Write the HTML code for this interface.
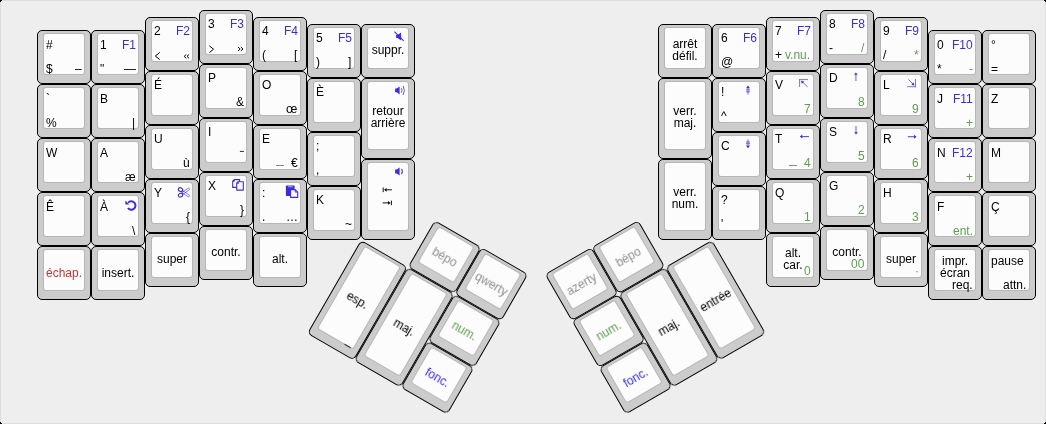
<!DOCTYPE html>
<html><head><meta charset="utf-8"><style>
html,body{margin:0;padding:0;background:#000;width:1046px;height:424px;overflow:hidden}
#kb{position:absolute;left:0;top:0;width:1046px;height:424px;box-sizing:border-box;background:#eeeeee;box-shadow:inset 0 0 0 1px #dddddd;font-family:"Liberation Sans",sans-serif;color:#000}
.k{position:absolute;box-sizing:border-box;border:1px solid #000;border-radius:5px;background:#cccccc}
.k i{position:absolute;left:5px;top:2px;box-sizing:border-box;border:1px solid rgba(0,0,0,0.1);border-radius:3px;background:#fcfcfc;background-clip:padding-box}
.k b{position:absolute;will-change:transform;font-weight:normal;font-size:12px;line-height:13px;white-space:nowrap}
.k b.tl{left:8.1px;top:7.35px}
.k b.tr{right:8.4px;top:7.35px}
.k b.bl{left:8.1px;bottom:7.7px}
.k b.br{right:8.4px;bottom:7.7px}
.k b.bc{left:0;right:0;text-align:center;bottom:7.7px}
.k b.tc{left:0;right:0;text-align:center;top:7.35px;line-height:12px}
.k b.c{line-height:12px;left:0;right:0;top:2.25px;bottom:3.25px;display:flex;align-items:center;justify-content:center;text-align:center}
.k svg.ic{position:absolute;left:-1px;top:-1px}
.k b .nb{display:inline-block;width:8px;height:1px;background:#8a8a8a;vertical-align:1px;margin-right:7px}
#kb u{position:absolute;display:block}

</style></head><body><div id="kb">
<div class="k" style="left:37px;top:30.25px;width:54px;height:54px"><i style="width:42px;height:42px"></i><b class="tl" style="">#</b><b class="bl" style="">$</b><b class="br" style="">–</b></div>
<div class="k" style="left:37px;top:84.25px;width:54px;height:54px"><i style="width:42px;height:42px"></i><b class="tl" style="">`</b><b class="bl" style="">%</b></div>
<div class="k" style="left:37px;top:138.25px;width:54px;height:54px"><i style="width:42px;height:42px"></i><b class="tl" style="">W</b></div>
<div class="k" style="left:37px;top:192.25px;width:54px;height:54px"><i style="width:42px;height:42px"></i><b class="tl" style="">Ê</b></div>
<div class="k" style="left:37px;top:246.25px;width:54px;height:54px"><i style="width:42px;height:42px"></i><b class="c" style="color:#c8332e">échap.</b></div>
<div class="k" style="left:91px;top:30.25px;width:54px;height:54px"><i style="width:42px;height:42px"></i><b class="tl" style="">1</b><b class="tr" style="color:#3a2ed8">F1</b><b class="bl" style="">"</b><b class="br" style="">—</b></div>
<div class="k" style="left:91px;top:84.25px;width:54px;height:54px"><i style="width:42px;height:42px"></i><b class="tl" style="">B</b><b class="br" style="">|</b></div>
<div class="k" style="left:91px;top:138.25px;width:54px;height:54px"><i style="width:42px;height:42px"></i><b class="tl" style="">A</b><b class="br" style="">æ</b></div>
<div class="k" style="left:91px;top:192.25px;width:54px;height:54px"><i style="width:42px;height:42px"></i><b class="tl" style="">À</b><svg class="ic" width="54" height="54"><path d="M37.2 10.6 A4.2 4.2 0 1 1 36.9 16" fill="none" stroke="#3a2ed8" stroke-width="2"/><path d="M34.4 8.6 L34.4 12.4 L38.3 12.4 Z" fill="#3a2ed8"/></svg><b class="br" style="">\</b></div>
<div class="k" style="left:91px;top:246.25px;width:54px;height:54px"><i style="width:42px;height:42px"></i><b class="c" style="">insert.</b></div>
<div class="k" style="left:145px;top:16.75px;width:54px;height:54px"><i style="width:42px;height:42px"></i><b class="tl" style="">2</b><b class="tr" style="color:#3a2ed8">F2</b><svg class="ic" width="54" height="54"><path d="M14.8 35.4 L10.3 39 L14.8 42.6" fill="none" stroke="#000" stroke-width="1"/></svg><svg class="ic" width="54" height="54"><path d="M41.3 37.5 L39.1 39.4 L41.3 41.3 M44.1 37.5 L41.9 39.4 L44.1 41.3" fill="none" stroke="#000" stroke-width="0.95"/></svg></div>
<div class="k" style="left:145px;top:70.75px;width:54px;height:54px"><i style="width:42px;height:42px"></i><b class="tl" style="">É</b></div>
<div class="k" style="left:145px;top:124.75px;width:54px;height:54px"><i style="width:42px;height:42px"></i><b class="tl" style="">U</b><b class="br" style="">ù</b></div>
<div class="k" style="left:145px;top:178.75px;width:54px;height:54px"><i style="width:42px;height:42px"></i><b class="tl" style="">Y</b><svg class="ic" width="54" height="54"><ellipse cx="35.5" cy="10.6" rx="2.2" ry="1.8" transform="rotate(25 35.5 10.6)" fill="none" stroke="#3a2ed8" stroke-width="1.1"/><ellipse cx="35.5" cy="16.2" rx="2.2" ry="1.8" transform="rotate(-25 35.5 16.2)" fill="none" stroke="#3a2ed8" stroke-width="1.1"/><path d="M36.9 13.6 L43.6 8.9 L44.7 10.5 L38.1 15.2 Z M36.9 13.4 L43.6 18.1 L44.7 16.5 L38.1 11.8 Z" fill="none" stroke="#3a2ed8" stroke-width="0.75" opacity="0.8" stroke-linejoin="round"/></svg><b class="br" style="">{</b></div>
<div class="k" style="left:145px;top:232.75px;width:54px;height:54px"><i style="width:42px;height:42px"></i><b class="c" style="">super</b></div>
<div class="k" style="left:199px;top:10px;width:54px;height:54px"><i style="width:42px;height:42px"></i><b class="tl" style="">3</b><b class="tr" style="color:#3a2ed8">F3</b><svg class="ic" width="54" height="54"><path d="M10.4 35.8 L14.5 39.2 L10.4 42.6" fill="none" stroke="#000" stroke-width="1"/></svg><svg class="ic" width="54" height="54"><path d="M39 37 L41.2 39 L39 41 M41.8 37 L44 39 L41.8 41" fill="none" stroke="#000" stroke-width="0.95"/></svg></div>
<div class="k" style="left:199px;top:64px;width:54px;height:54px"><i style="width:42px;height:42px"></i><b class="tl" style="">P</b><b class="br" style="">&amp;</b></div>
<div class="k" style="left:199px;top:118px;width:54px;height:54px"><i style="width:42px;height:42px"></i><b class="tl" style="">I</b><svg class="ic" width="54" height="54"><rect x="40.9" y="32.9" width="4" height="1.1" fill="#444"/></svg></div>
<div class="k" style="left:199px;top:172px;width:54px;height:54px"><i style="width:42px;height:42px"></i><b class="tl" style="">X</b><svg class="ic" width="54" height="54"><path d="M35.2 7.6 H40.6 V15.4 H33.7 V9.1 Z M35.2 7.6 V9.1 H33.7" fill="none" stroke="#3a2ed8" stroke-width="1.1" stroke-linejoin="round"/><path d="M39.2 9.7 H44.3 V18.1 H37.7 V11.2 Z M39.2 9.7 V11.2 H37.7" fill="#fcfcfc" stroke="#3a2ed8" stroke-width="1.1" stroke-linejoin="round"/></svg><b class="br" style="">}</b></div>
<div class="k" style="left:199px;top:226px;width:54px;height:54px"><i style="width:42px;height:42px"></i><b class="c" style="">contr.</b></div>
<div class="k" style="left:253px;top:16.75px;width:54px;height:54px"><i style="width:42px;height:42px"></i><b class="tl" style="">4</b><b class="tr" style="color:#3a2ed8">F4</b><b class="bl" style="">(</b><b class="br" style="">[</b></div>
<div class="k" style="left:253px;top:70.75px;width:54px;height:54px"><i style="width:42px;height:42px"></i><b class="tl" style="">O</b><b class="br" style="">œ</b></div>
<div class="k" style="left:253px;top:124.75px;width:54px;height:54px"><i style="width:42px;height:42px"></i><b class="tl" style="">E</b><b class="br" style=""><span class="nb"></span>€</b></div>
<div class="k" style="left:253px;top:178.75px;width:54px;height:54px"><i style="width:42px;height:42px"></i><b class="tl" style="">:</b><svg class="ic" width="54" height="54"><rect x="32.9" y="6.5" width="8.7" height="10.6" rx="0.8" fill="#3a2ed8"/><rect x="35" y="7.3" width="4.6" height="0.9" fill="#b8b4f0"/><path d="M37.6 10.6 H42.2 L44.7 13.1 V18.4 H37.6 Z" fill="#fcfcfc" stroke="#3a2ed8" stroke-width="1.1" stroke-linejoin="round"/><path d="M42.2 10.6 V13.1 H44.7" fill="none" stroke="#3a2ed8" stroke-width="0.9"/></svg><b class="bl" style="">.</b><b class="br" style="">…</b></div>
<div class="k" style="left:253px;top:232.75px;width:54px;height:54px"><i style="width:42px;height:42px"></i><b class="c" style="">alt.</b></div>
<div class="k" style="left:307px;top:23.5px;width:54px;height:54px"><i style="width:42px;height:42px"></i><b class="tl" style="">5</b><b class="tr" style="color:#3a2ed8">F5</b><b class="bl" style="">)</b><b class="br" style="">]</b></div>
<div class="k" style="left:307px;top:77.5px;width:54px;height:54px"><i style="width:42px;height:42px"></i><b class="tl" style="">È</b></div>
<div class="k" style="left:307px;top:131.5px;width:54px;height:54px"><i style="width:42px;height:42px"></i><b class="tl" style="">;</b><b class="bl" style="">,</b></div>
<div class="k" style="left:307px;top:185.5px;width:54px;height:54px"><i style="width:42px;height:42px"></i><b class="tl" style="">K</b><b class="br" style="">~</b></div>
<div class="k" style="left:361px;top:23.5px;width:54px;height:54px"><i style="width:42px;height:42px"></i><b class="c" style="">suppr.</b><svg class="ic" width="54" height="54"><path d="M35.1 11 H36.6 L40.1 8.4 V16.4 L36.6 14.1 H35.1 Z" fill="#3a2ed8"/><path d="M33.4 7.7 L42.7 16.9" stroke="#3a2ed8" stroke-width="1.1"/></svg></div>
<div class="k" style="left:361px;top:77.5px;width:54px;height:81.0px"><i style="width:42px;height:69px"></i><b class="c" style="top:1.25px;bottom:4.25px">retour<br>arrière</b><svg class="ic" width="54" height="81"><path d="M34.1 10.5 H35.7 L38.6 8.4 V16.4 L35.7 14.3 H34.1 Z" fill="#3a2ed8"/><path d="M40.4 10.2 Q41.6 12.4 40.4 14.6 M42.2 8 Q44.6 12.4 42.2 16.9" fill="none" stroke="#3a2ed8" stroke-width="1" opacity="0.8"/></svg></div>
<div class="k" style="left:361px;top:158.5px;width:54px;height:81.0px"><i style="width:42px;height:69px"></i><svg class="ic" width="54" height="81"><path d="M22.2 28.5 V33.1" stroke="#111" stroke-width="1"/><path d="M23 30.8 L25.6 28.9 V32.7 Z" fill="#111"/><path d="M25 30.8 H30.9" stroke="#111" stroke-width="1"/></svg><svg class="ic" width="54" height="81"><path d="M30.4 41.6 V46.2" stroke="#111" stroke-width="1"/><path d="M29.6 43.9 L27 42 V45.8 Z" fill="#111"/><path d="M21.7 43.9 H27.6" stroke="#111" stroke-width="1"/></svg><svg class="ic" width="54" height="81"><path d="M34.1 10.6 H35.7 L38.6 8.5 V16.5 L35.7 14.4 H34.1 Z" fill="#3a2ed8"/><path d="M40.5 9.8 Q42.4 12.5 40.5 15.3" fill="none" stroke="#3a2ed8" stroke-width="1.1" opacity="0.85"/></svg></div>
<div class="k" style="left:658px;top:23.5px;width:54px;height:54px"><i style="width:42px;height:42px"></i><b class="c" style="">arrêt<br>défil.</b></div>
<div class="k" style="left:658px;top:77.5px;width:54px;height:81.0px"><i style="width:42px;height:69px"></i><b class="c" style="top:1.25px;bottom:4.25px">verr.<br>maj.</b></div>
<div class="k" style="left:658px;top:158.5px;width:54px;height:81.0px"><i style="width:42px;height:69px"></i><b class="c" style="top:1.25px;bottom:4.25px">verr.<br>num.</b></div>
<div class="k" style="left:712px;top:23.5px;width:54px;height:54px"><i style="width:42px;height:42px"></i><b class="tl" style="">6</b><b class="tr" style="color:#3a2ed8">F6</b><b class="bl" style="">@</b></div>
<div class="k" style="left:712px;top:77.5px;width:54px;height:54px"><i style="width:42px;height:42px"></i><b class="tl" style="">!</b><svg class="ic" width="54" height="54"><path d="M36 7.4 L38 10.2 H34 Z" fill="#3a2ed8"/><path d="M36 10 V16.6 M34 11.9 H38 M34 13.8 H38" stroke="#3a2ed8" stroke-width="0.9" opacity="0.8"/></svg><b class="bl" style="">^</b></div>
<div class="k" style="left:712px;top:131.5px;width:54px;height:54px"><i style="width:42px;height:42px"></i><b class="tl" style="">C</b><svg class="ic" width="54" height="54"><path d="M36 16.2 L38 13.4 H34 Z" fill="#3a2ed8"/><path d="M36 7.4 V13.6 M34 10 H38 M34 11.7 H38" stroke="#3a2ed8" stroke-width="0.9" opacity="0.8"/></svg></div>
<div class="k" style="left:712px;top:185.5px;width:54px;height:54px"><i style="width:42px;height:42px"></i><b class="tl" style="">?</b><b class="bl" style="">'</b></div>
<div class="k" style="left:766px;top:16.75px;width:54px;height:54px"><i style="width:42px;height:42px"></i><b class="tl" style="">7</b><b class="tr" style="color:#3a2ed8">F7</b><b class="bl" style="">+</b><b class="br" style="color:#5e9e50">v.nu.</b></div>
<div class="k" style="left:766px;top:70.75px;width:54px;height:54px"><i style="width:42px;height:42px"></i><b class="tl" style="">V</b><svg class="ic" width="54" height="54"><path d="M33.1 8.6 H42 M33.6 8.2 V16" stroke="#3a2ed8" stroke-width="0.9" opacity="0.75"/><path d="M41.6 15.9 L36.4 10.9" stroke="#3a2ed8" stroke-width="0.9" opacity="0.8"/><path d="M35 9.7 L38.2 10.4 L35.8 12.8 Z" fill="#3a2ed8"/></svg><b class="br" style="color:#5e9e50">7</b></div>
<div class="k" style="left:766px;top:124.75px;width:54px;height:54px"><i style="width:42px;height:42px"></i><b class="tl" style="">T</b><svg class="ic" width="54" height="54"><path d="M33.8 11.6 L36.3 9.6 V13.6 Z" fill="#3a2ed8"/><path d="M36 11.6 H43" stroke="#3a2ed8" stroke-width="1.1" opacity="0.85"/></svg><b class="br" style="color:#5e9e50"><span class="nb"></span>4</b></div>
<div class="k" style="left:766px;top:178.75px;width:54px;height:54px"><i style="width:42px;height:42px"></i><b class="tl" style="">Q</b><b class="br" style="color:#5e9e50">1</b></div>
<div class="k" style="left:766px;top:232.75px;width:54px;height:54px"><i style="width:42px;height:42px"></i><b class="c" style="">alt.<br>car.</b><b class="br" style="color:#5e9e50">0</b></div>
<div class="k" style="left:820px;top:10px;width:54px;height:54px"><i style="width:42px;height:42px"></i><b class="tl" style="">8</b><b class="tr" style="color:#3a2ed8">F8</b><b class="bl" style="">-</b><b class="br" style="color:#5e9e50">/</b></div>
<div class="k" style="left:820px;top:64px;width:54px;height:54px"><i style="width:42px;height:42px"></i><b class="tl" style="">D</b><svg class="ic" width="54" height="54"><path d="M35.9 8.4 L37.8 10.8 H34 Z" fill="#3a2ed8"/><path d="M35.9 10.5 V16.9" stroke="#3a2ed8" stroke-width="1.1" opacity="0.7"/></svg><b class="br" style="color:#5e9e50">8</b></div>
<div class="k" style="left:820px;top:118px;width:54px;height:54px"><i style="width:42px;height:42px"></i><b class="tl" style="">S</b><svg class="ic" width="54" height="54"><path d="M36 16.6 L37.9 14.2 H34.1 Z" fill="#3a2ed8"/><path d="M36 7.9 V14.5" stroke="#3a2ed8" stroke-width="1.1" opacity="0.7"/></svg><b class="br" style="color:#5e9e50">5</b></div>
<div class="k" style="left:820px;top:172px;width:54px;height:54px"><i style="width:42px;height:42px"></i><b class="tl" style="">G</b><b class="br" style="color:#5e9e50">2</b></div>
<div class="k" style="left:820px;top:226px;width:54px;height:54px"><i style="width:42px;height:42px"></i><b class="c" style="">contr.</b><b class="br" style="color:#5e9e50">00</b></div>
<div class="k" style="left:874px;top:16.75px;width:54px;height:54px"><i style="width:42px;height:42px"></i><b class="tl" style="">9</b><b class="tr" style="color:#3a2ed8">F9</b><b class="bl" style="">/</b><b class="br" style="color:#5e9e50">*</b></div>
<div class="k" style="left:874px;top:70.75px;width:54px;height:54px"><i style="width:42px;height:42px"></i><b class="tl" style="">L</b><svg class="ic" width="54" height="54"><path d="M33.3 15.7 H42 M41.5 8 V16.2" stroke="#3a2ed8" stroke-width="0.9" opacity="0.75"/><path d="M34.3 8.4 L39.2 13.3" stroke="#3a2ed8" stroke-width="0.9" opacity="0.8"/><path d="M40.4 14.5 L37.3 13.8 L39.6 11.5 Z" fill="#3a2ed8"/></svg><b class="br" style="color:#5e9e50">9</b></div>
<div class="k" style="left:874px;top:124.75px;width:54px;height:54px"><i style="width:42px;height:42px"></i><b class="tl" style="">R</b><svg class="ic" width="54" height="54"><path d="M42.5 11.7 L40 9.7 V13.7 Z" fill="#3a2ed8"/><path d="M33.8 11.7 H40.5" stroke="#3a2ed8" stroke-width="1.1" opacity="0.85"/></svg><b class="br" style="color:#5e9e50">6</b></div>
<div class="k" style="left:874px;top:178.75px;width:54px;height:54px"><i style="width:42px;height:42px"></i><b class="tl" style="">H</b><b class="br" style="color:#5e9e50">3</b></div>
<div class="k" style="left:874px;top:232.75px;width:54px;height:54px"><i style="width:42px;height:42px"></i><b class="c" style="">super</b><b class="br" style="color:#5e9e50">·</b></div>
<div class="k" style="left:928px;top:30.25px;width:54px;height:54px"><i style="width:42px;height:42px"></i><b class="tl" style="">0</b><b class="tr" style="color:#3a2ed8">F10</b><b class="bl" style="">*</b><b class="br" style="color:#5e9e50">-</b></div>
<div class="k" style="left:928px;top:84.25px;width:54px;height:54px"><i style="width:42px;height:42px"></i><b class="tl" style="">J</b><b class="tr" style="color:#3a2ed8">F11</b><b class="br" style="color:#5e9e50">+</b></div>
<div class="k" style="left:928px;top:138.25px;width:54px;height:54px"><i style="width:42px;height:42px"></i><b class="tl" style="">N</b><b class="tr" style="color:#3a2ed8">F12</b><b class="br" style="color:#5e9e50">+</b></div>
<div class="k" style="left:928px;top:192.25px;width:54px;height:54px"><i style="width:42px;height:42px"></i><b class="tl" style="">F</b><b class="br" style="color:#5e9e50">ent.</b></div>
<div class="k" style="left:928px;top:246.25px;width:54px;height:54px"><i style="width:42px;height:42px"></i><b class="tc" style="">impr.<br>écran</b><b class="br" style="">req.</b></div>
<div class="k" style="left:982px;top:30.25px;width:54px;height:54px"><i style="width:42px;height:42px"></i><b class="tl" style="">°</b><b class="bl" style="">=</b></div>
<div class="k" style="left:982px;top:84.25px;width:54px;height:54px"><i style="width:42px;height:42px"></i><b class="tl" style="">Z</b></div>
<div class="k" style="left:982px;top:138.25px;width:54px;height:54px"><i style="width:42px;height:42px"></i><b class="tl" style="">M</b></div>
<div class="k" style="left:982px;top:192.25px;width:54px;height:54px"><i style="width:42px;height:42px"></i><b class="tl" style="">Ç</b></div>
<div class="k" style="left:982px;top:246.25px;width:54px;height:54px"><i style="width:42px;height:42px"></i><b class="tl" style="">pause</b><b class="br" style="">attn.</b></div>
<div class="k" style="left:415px;top:185.5px;width:54px;height:54px;transform-origin:-54px 54px;transform:rotate(30deg)"><i style="width:42px;height:42px"></i><b class="c" style="color:#8e8e8e;top:2.85px;bottom:2.65px">bépo</b></div>
<div class="k" style="left:469px;top:185.5px;width:54px;height:54px;transform-origin:-108px 54px;transform:rotate(30deg)"><i style="width:42px;height:42px"></i><b class="c" style="color:#8e8e8e;top:2.85px;bottom:2.65px">qwerty</b></div>
<div class="k" style="left:361px;top:239.5px;width:54px;height:108px;transform-origin:0px 0px;transform:rotate(30deg)"><i style="width:42px;height:96px"></i><b class="c" style="top:2.85px;bottom:2.65px">esp.</b><b class="br" style="">_</b></div>
<div class="k" style="left:415px;top:239.5px;width:54px;height:108px;transform-origin:-54px 0px;transform:rotate(30deg)"><i style="width:42px;height:96px"></i><b class="c" style="top:2.85px;bottom:2.65px">maj.</b></div>
<div class="k" style="left:469px;top:239.5px;width:54px;height:54px;transform-origin:-108px 0px;transform:rotate(30deg)"><i style="width:42px;height:42px"></i><b class="c" style="color:#5e9e50;top:2.85px;bottom:2.65px">num.</b></div>
<div class="k" style="left:469px;top:293.5px;width:54px;height:54px;transform-origin:-108px -54px;transform:rotate(30deg)"><i style="width:42px;height:42px"></i><b class="c" style="color:#3a2ed8;top:2.85px;bottom:2.65px">fonc.</b></div>
<div class="k" style="left:550px;top:185.5px;width:54px;height:54px;transform-origin:162px 54px;transform:rotate(-30deg)"><i style="width:42px;height:42px"></i><b class="c" style="color:#8e8e8e;top:2.85px;bottom:2.65px">azerty</b></div>
<div class="k" style="left:604px;top:185.5px;width:54px;height:54px;transform-origin:108px 54px;transform:rotate(-30deg)"><i style="width:42px;height:42px"></i><b class="c" style="color:#8e8e8e;top:2.85px;bottom:2.65px">bépo</b></div>
<div class="k" style="left:550px;top:239.5px;width:54px;height:54px;transform-origin:162px 0px;transform:rotate(-30deg)"><i style="width:42px;height:42px"></i><b class="c" style="color:#5e9e50;top:2.85px;bottom:2.65px">num.</b></div>
<div class="k" style="left:604px;top:239.5px;width:54px;height:108px;transform-origin:108px 0px;transform:rotate(-30deg)"><i style="width:42px;height:96px"></i><b class="c" style="top:2.85px;bottom:2.65px">maj.</b></div>
<div class="k" style="left:658px;top:239.5px;width:54px;height:108px;transform-origin:54px 0px;transform:rotate(-30deg)"><i style="width:42px;height:96px"></i><b class="c" style="top:2.85px;bottom:2.65px">entrée</b></div>
<div class="k" style="left:550px;top:293.5px;width:54px;height:54px;transform-origin:162px -54px;transform:rotate(-30deg)"><i style="width:42px;height:42px"></i><b class="c" style="color:#3a2ed8;top:2.85px;bottom:2.65px">fonc.</b></div>
<u style="left:0px;top:0px;width:1px;height:1px;background:#000"></u><u style="left:1px;top:0px;width:1px;height:1px;background:#000"></u><u style="left:0px;top:1px;width:1px;height:1px;background:#000"></u><u style="left:1px;top:1px;width:1px;height:1px;background:#f8f8f8"></u><u style="left:1045px;top:0px;width:1px;height:1px;background:#000"></u><u style="left:1044px;top:0px;width:1px;height:1px;background:#000"></u><u style="left:1045px;top:1px;width:1px;height:1px;background:#000"></u><u style="left:1044px;top:1px;width:1px;height:1px;background:#f8f8f8"></u><u style="left:0px;top:423px;width:1px;height:1px;background:#000"></u><u style="left:1px;top:423px;width:1px;height:1px;background:#000"></u><u style="left:0px;top:422px;width:1px;height:1px;background:#000"></u><u style="left:1px;top:422px;width:1px;height:1px;background:#f8f8f8"></u><u style="left:1045px;top:423px;width:1px;height:1px;background:#000"></u><u style="left:1044px;top:423px;width:1px;height:1px;background:#000"></u><u style="left:1045px;top:422px;width:1px;height:1px;background:#000"></u><u style="left:1044px;top:422px;width:1px;height:1px;background:#f8f8f8"></u>
</div></body></html>
